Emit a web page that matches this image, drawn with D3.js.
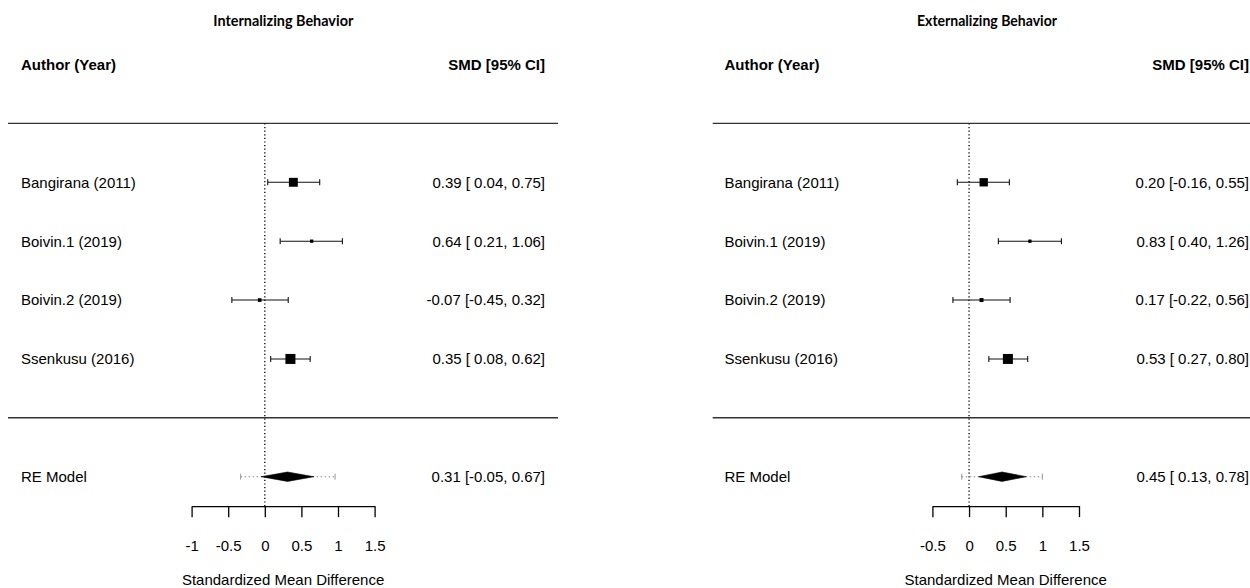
<!DOCTYPE html>
<html>
<head>
<meta charset="utf-8">
<script src="https://cdn.jsdelivr.net/npm/d3@7"></script>
<style>
  html, body { margin: 0; padding: 0; background: #fff; }
  svg { display: block; }
  text { font-family: "Liberation Sans", Arial, sans-serif; fill: #000; }
</style>
</head>
<body>
<svg id="chart" width="1250" height="588"></svg>
<script>
// ---------------- data ----------------
const studies = ["Bangirana (2011)", "Boivin.1 (2019)", "Boivin.2 (2019)", "Ssenkusu (2016)"];

const intTitle = "Internalizing Behavior";
const intEst = [0.39, 0.64, -0.07, 0.35];
const intLo  = [0.04, 0.21, -0.45, 0.08];
const intHi  = [0.75, 1.06, 0.32, 0.62];
const intWeight = [27.0, 22.4, 22.7, 27.9];
const intRE = [0.31, -0.05, 0.67];      // estimate, lower, upper
const intPI = [-0.33, 0.96];            // prediction interval
const intTicks = [-1, -0.5, 0, 0.5, 1, 1.5];

const extTitle = "Externalizing Behavior";
const extEst = [0.20, 0.83, 0.17, 0.53];
const extLo  = [-0.16, 0.40, -0.22, 0.27];
const extHi  = [0.55, 1.26, 0.56, 0.80];
const extWeight = [27.3, 21.3, 22.1, 29.3];
const extRE = [0.45, 0.13, 0.78];
const extPI = [-0.10, 1.00];
const extTicks = [-0.5, 0, 0.5, 1, 1.5];

const colHeaderLeft = "Author (Year)";
const colHeaderRight = "SMD [95% CI]";
const modelLabel = "RE Model";
const xAxisTitle = "Standardized Mean Difference";

// ---------------- layout ----------------
const svg = d3.select("#chart");
const hy = s => s.replace(/\u2212/g, "-");
const f2 = v => hy(d3.format(".2f")(v));
const fTick = v => hy(d3.format("~g")(v));

// row scale (metafor-style rows: 4..1 studies, 5 header rule, 0 lower rule, -1 model)
const yRow = d3.scaleLinear().domain([4, -1]).range([182.3, 476.7]);

function panel(cfg) {
  const g = svg.append("g");
  const x = d3.scaleLinear().domain(d3.extent(cfg.ticks)).range(cfg.axisRange);
  const sz = d3.scaleLinear().domain(d3.extent(cfg.weight)).range([3.3, 10]);
  const neg = d3.min(cfg.lo.concat([cfg.re[1]])) < 0;
  const pad = v => (neg && v >= 0 ? " " : "") + f2(v);
  const label = (e, l, h) => `${f2(e)} [${pad(l)}, ${f2(h)}]`;

  // title
  g.append("text")
    .attr("x", cfg.titleX).attr("y", 25.5)
    .attr("text-anchor", "middle")
    .style("font-family", "Lato, 'Open Sans', sans-serif")
    .style("font-weight", "bold").style("font-size", "15px")
    .attr("textLength", 140).attr("lengthAdjust", "spacingAndGlyphs")
    .text(cfg.title);

  // column headers
  g.append("text").attr("x", cfg.textL).attr("y", yRow(6)).attr("dy", "0.36em")
    .style("font-weight", "bold").style("font-size", "15px").text(colHeaderLeft);
  g.append("text").attr("x", cfg.textR).attr("y", yRow(6)).attr("dy", "0.36em")
    .attr("text-anchor", "end")
    .style("font-weight", "bold").style("font-size", "15px").text(colHeaderRight);

  // horizontal rules
  [5, 0].forEach(r => {
    g.append("line").attr("x1", cfg.ruleX[0]).attr("x2", cfg.ruleX[1])
      .attr("y1", yRow(r)).attr("y2", yRow(r))
      .attr("stroke", "#333").attr("stroke-width", 1.4);
  });

  // reference line at 0
  g.append("line").attr("x1", x(0)).attr("x2", x(0))
    .attr("y1", yRow(5)).attr("y2", yRow(-1.5))
    .attr("stroke", "#111").attr("stroke-width", 1.4)
    .attr("stroke-dasharray", "1.2,2.4");

  // studies
  studies.forEach((s, i) => {
    const y = yRow(4 - i);
    g.append("text").attr("x", cfg.textL).attr("y", y).attr("dy", "0.36em")
      .style("font-size", "15px").text(s);
    g.append("text").attr("x", cfg.textR).attr("y", y).attr("dy", "0.36em")
      .attr("text-anchor", "end").attr("xml:space", "preserve")
      .style("font-size", "15px").style("white-space", "pre")
      .text(label(cfg.est[i], cfg.lo[i], cfg.hi[i]));
    g.append("line").attr("x1", x(cfg.lo[i])).attr("x2", x(cfg.hi[i]))
      .attr("y1", y).attr("y2", y).attr("stroke", "#111").attr("stroke-width", 1.1);
    [cfg.lo[i], cfg.hi[i]].forEach(v => {
      g.append("line").attr("x1", x(v)).attr("x2", x(v))
        .attr("y1", y - 3).attr("y2", y + 3).attr("stroke", "#111").attr("stroke-width", 1.1);
    });
    const s2 = sz(cfg.weight[i]);
    g.append("rect").attr("x", x(cfg.est[i]) - s2 / 2).attr("y", y - s2 / 2)
      .attr("width", s2).attr("height", s2).attr("fill", "#000");
  });

  // model row
  const ym = yRow(-1);
  g.append("text").attr("x", cfg.textL).attr("y", ym).attr("dy", "0.36em")
    .style("font-size", "15px").text(modelLabel);
  g.append("text").attr("x", cfg.textR).attr("y", ym).attr("dy", "0.36em")
    .attr("text-anchor", "end").attr("xml:space", "preserve")
    .style("font-size", "15px").style("white-space", "pre")
    .text(label(cfg.re[0], cfg.re[1], cfg.re[2]));
  // prediction interval
  g.append("line").attr("x1", x(cfg.pi[0])).attr("x2", x(cfg.pi[1]))
    .attr("y1", ym).attr("y2", ym).attr("stroke", "#888").attr("stroke-width", 1.1)
    .attr("stroke-dasharray", "1.5,2.5");
  cfg.pi.forEach(v => {
    g.append("line").attr("x1", x(v)).attr("x2", x(v))
      .attr("y1", ym - 3).attr("y2", ym + 3).attr("stroke", "#999").attr("stroke-width", 1);
  });
  const h = 4.7;
  g.append("polygon")
    .attr("points", [[x(cfg.re[1]), ym], [x(cfg.re[0]), ym - h], [x(cfg.re[2]), ym], [x(cfg.re[0]), ym + h]]
      .map(p => p.join(",")).join(" "))
    .attr("fill", "#000").attr("stroke", "#000").attr("stroke-width", 0.6);

  // axis
  const axis = d3.axisBottom(x).tickValues(cfg.ticks).tickSize(11).tickSizeOuter(0)
    .tickPadding(23).tickFormat(fTick);
  const ax = g.append("g").attr("transform", `translate(0,${yRow(-1.5)})`).call(axis);
  ax.selectAll("path").attr("stroke", "#000").attr("stroke-width", 1.3);
  ax.selectAll("line").attr("stroke", "#000").attr("stroke-width", 1.3);
  ax.selectAll("text").attr("font-family", null)
    .style("font-family", "'Liberation Sans', Arial, sans-serif")
    .style("font-size", "15px").attr("fill", "#000");
  ax.attr("font-size", null).attr("font-family", null);

  g.append("text").attr("x", d3.mean(cfg.axisRange)).attr("y", 585.4)
    .attr("text-anchor", "middle").style("font-size", "15px").text(xAxisTitle);
}

panel({
  title: intTitle, est: intEst, lo: intLo, hi: intHi, weight: intWeight,
  re: intRE, pi: intPI, ticks: intTicks,
  axisRange: [191.6, 374.6], ruleX: [8, 558], textL: 21, textR: 545, titleX: 283.3
});
panel({
  title: extTitle, est: extEst, lo: extLo, hi: extHi, weight: extWeight,
  re: extRE, pi: extPI, ticks: extTicks,
  axisRange: [932.4, 1079], ruleX: [712.7, 1250], textL: 724.5, textR: 1249, titleX: 987
});
</script>
</body>
</html>
